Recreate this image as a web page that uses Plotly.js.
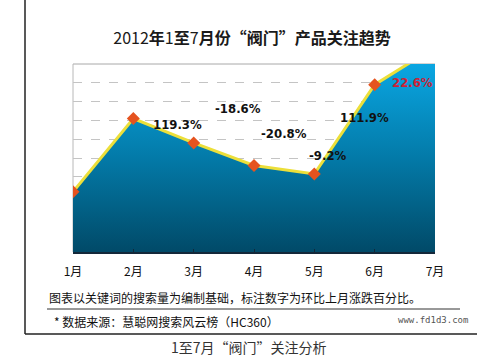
<!DOCTYPE html>
<html>
<head>
<meta charset="utf-8">
<script src="https://cdn.plot.ly/plotly-3.0.1.min.js"></script>
<style>html,body{margin:0;padding:0;background:#fff;}#chart{width:477px;height:361px;}</style>
</head>
<body>
<div id="chart"></div>
<script>
// ---- data ----
const months = ['1月', '2月', '3月', '4月', '5月', '6月', '7月'];
const attention = [3.2, 7.1, 5.8, 4.6, 4.15, 8.9, 10.9];
const changeLabels = ['119.3%', '-18.6%', '-20.8%', '-9.2%', '111.9%', '22.6%'];
const chartTitle = '2012<b>年</b>1<b>至</b>7<b>月份“阀门”产品关注趋势</b>';
const noteText = '图表以关键词的搜索量为编制基础，标注数字为环比上月涨跌百分比。';
const sourceText = '* 数据来源：慧聪网搜索风云榜（HC360）';
const watermark = 'www.fd1d3.com';
const caption = '1至7月“阀门”关注分析';

// label placement (layout only)
const labelX = [1.74, 2.74, 3.50, 4.23, 4.83, 5.62];
const labelY = [6.76, 7.61, 6.28, 5.11, 7.18, 8.99];
const labelColor = ['#111', '#111', '#111', '#111', '#111', '#cc2236'];

const W = 477, H = 361, L = 73, R = 435, T = 64, B = 252;
const px = x => (x - L) / (R - L);
const py = y => (B - y) / (B - T);

const trace = {
  type: 'scatter',
  mode: 'lines+markers',
  x: months,
  y: attention,
  fill: 'tozeroy',
  fillgradient: {
    type: 'vertical',
    start: 0,
    stop: 10,
    colorscale: [[0, '#014a68'], [0.5, '#037aa8'], [1, '#0aa6e2']]
  },
  line: {color: '#ecdf3a', width: 3},
  marker: {symbol: 'diamond', size: 10, color: '#e5531f', line: {width: 0}},
  hoverinfo: 'skip'
};

const annotations = changeLabels.map((t, i) => ({
  x: labelX[i], y: labelY[i], xref: 'x', yref: 'y',
  text: '<b>' + t + '</b>', showarrow: false,
  font: {family: '"DejaVu Sans Condensed", "Liberation Sans Narrow", sans-serif', size: 13, color: labelColor[i]},
  xanchor: 'center', yanchor: 'middle'
}));

const cjk = '"Noto Sans CJK SC", "Noto Sans", sans-serif';

annotations.push(
  {xref: 'paper', yref: 'paper', x: px(47), y: py(297), xanchor: 'left', yanchor: 'middle',
   text: noteText, showarrow: false, font: {family: cjk, size: 12, color: '#111'}},
  {xref: 'paper', yref: 'paper', x: px(52), y: py(321), xanchor: 'left', yanchor: 'middle',
   text: sourceText, showarrow: false, font: {family: cjk, size: 12, color: '#111'}},
  {xref: 'paper', yref: 'paper', x: px(470), y: py(320), xanchor: 'right', yanchor: 'middle',
   text: watermark, showarrow: false, font: {family: 'DejaVu Sans Mono, monospace', size: 9, color: '#555'}},
  {xref: 'paper', yref: 'paper', x: px(249), y: py(347), xanchor: 'center', yanchor: 'middle',
   text: caption, showarrow: false, font: {family: cjk, size: 14, color: '#333'}}
);

const shapes = [
  // plot frame top & left (light gray)
  {type: 'line', xref: 'paper', yref: 'paper', x0: 0, x1: 1, y0: 1, y1: 1, layer: 'below', line: {color: '#a8a8a8', width: 1}},
  {type: 'line', xref: 'paper', yref: 'paper', x0: 0, x1: 0, y0: 0, y1: 1, layer: 'below', line: {color: '#b8b8b8', width: 1}},
  // outer frame
  {type: 'line', xref: 'paper', yref: 'paper', x0: px(25), x1: px(25), y0: py(0), y1: py(334), line: {color: '#222', width: 1.5}},
  {type: 'line', xref: 'paper', yref: 'paper', x0: px(25), x1: px(477), y0: py(334), y1: py(334), line: {color: '#222', width: 1.5}},
  // separator under note
  {type: 'line', xref: 'paper', yref: 'paper', x0: px(47), x1: px(460), y0: py(309), y1: py(309), line: {color: '#333', width: 1}}
];

const layout = {
  width: W, height: H,
  margin: {l: L, r: W - R, t: T, b: H - B, pad: 0},
  paper_bgcolor: '#fff', plot_bgcolor: '#fff',
  showlegend: false,
  title: {
    text: chartTitle,
    font: {family: cjk, size: 16, color: '#1a1a1a'},
    xref: 'paper', x: px(252), xanchor: 'center',
    yref: 'container', y: 1 - 38 / H, yanchor: 'middle'
  },
  xaxis: {
    type: 'category',
    range: [0, 6],
    showgrid: false, zeroline: false,
    showline: true, linecolor: '#14283a', linewidth: 2,
    ticks: 'inside', ticklen: 3, tickcolor: '#14283a', tickwidth: 1,
    ticklabelstandoff: 8,
    tickfont: {family: cjk, size: 12, color: '#111'},
    fixedrange: true
  },
  yaxis: {
    range: [0, 10], dtick: 1,
    showgrid: true, gridcolor: '#c4c4c4', griddash: 'dash', gridwidth: 1,
    showticklabels: false, zeroline: false, showline: false, ticks: '',
    fixedrange: true
  },
  annotations: annotations,
  shapes: shapes
};

Plotly.newPlot('chart', [trace], layout, {displayModeBar: false, staticPlot: true});
</script>
</body>
</html>
